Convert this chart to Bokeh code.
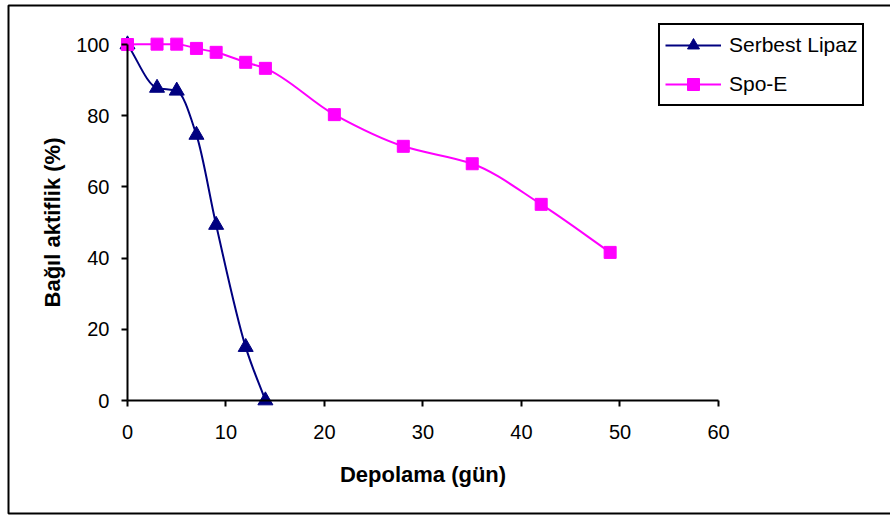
from bokeh.plotting import figure
from bokeh.models import Range1d, Legend, LegendItem, BoxAnnotation, FixedTicker
from bokeh.embed import file_html
from bokeh.resources import INLINE

# ---- data ----
days_serbest = [0, 3, 5, 7, 9, 12, 14]
activity_serbest = [100, 87.8, 87.0, 74.6, 49.3, 15.0, 0]

days_spo = [0, 3, 5, 7, 9, 12, 14, 21, 28, 35, 42, 49]
activity_spo = [100, 100.1, 100.1, 98.9, 97.8, 95.0, 93.3, 80.3, 71.4, 66.5, 55.1, 41.6]

x_ticks = [0, 10, 20, 30, 40, 50, 60]
y_ticks = [0, 20, 40, 60, 80, 100]

x_title = "Depolama (gün)"
y_title = "Bağıl aktiflik (%)"
series_names = ["Serbest Lipaz", "Spo-E"]
colors = ["#000080", "#FF00FF"]

FONT = "Liberation Sans"


def smooth_segments(xs, ys):
    """Monotone cubic (PCHIP) Bezier segments through the data points."""
    n = len(xs)
    h = [xs[k + 1] - xs[k] for k in range(n - 1)]
    d = [(ys[k + 1] - ys[k]) / h[k] for k in range(n - 1)]
    m = [0.0] * n
    m[0] = d[0]
    m[-1] = d[-1]
    for k in range(1, n - 1):
        if d[k - 1] * d[k] <= 0:
            m[k] = 0.0
        else:
            w1 = 2 * h[k] + h[k - 1]
            w2 = h[k] + 2 * h[k - 1]
            m[k] = (w1 + w2) / (w1 / d[k - 1] + w2 / d[k])
    out = dict(x0=[], y0=[], x1=[], y1=[], cx0=[], cy0=[], cx1=[], cy1=[])
    for k in range(n - 1):
        out["x0"].append(xs[k]); out["y0"].append(ys[k])
        out["x1"].append(xs[k + 1]); out["y1"].append(ys[k + 1])
        out["cx0"].append(xs[k] + h[k] / 3.0)
        out["cy0"].append(ys[k] + m[k] * h[k] / 3.0)
        out["cx1"].append(xs[k + 1] - h[k] / 3.0)
        out["cy1"].append(ys[k + 1] - m[k + 1] * h[k] / 3.0)
    return out


# The frame spans the whole canvas; the axes are placed at x=0 / y=0.
p = figure(
    width=890, height=515,
    x_range=Range1d(-12.893, 77.462),
    y_range=Range1d(-32.303, 112.36),
    output_backend="svg", toolbar_location=None,
    min_border_left=0, min_border_right=0,
    min_border_top=0, min_border_bottom=0,
)
p.outline_line_color = None
p.grid.visible = False
p.background_fill_color = "white"
p.border_fill_color = "white"

for ax in (p.xaxis[0], p.yaxis[0]):
    ax.axis_line_width = 2
    ax.axis_line_color = "black"
    ax.major_tick_line_width = 2
    ax.major_tick_line_color = "black"
    ax.major_tick_out = 6
    ax.major_tick_in = 0
    ax.minor_tick_line_color = None
    ax.major_label_text_font = FONT
    ax.major_label_text_font_size = "20px"
    ax.major_label_text_color = "black"
    ax.axis_label_text_font = FONT
    ax.axis_label_text_font_size = "22px"
    ax.axis_label_text_font_style = "bold"
    ax.axis_label_text_color = "black"

p.xaxis[0].ticker = FixedTicker(ticks=x_ticks)
p.yaxis[0].ticker = FixedTicker(ticks=y_ticks)
p.xaxis[0].bounds = (x_ticks[0], x_ticks[-1])
p.yaxis[0].bounds = (y_ticks[0], y_ticks[-1])
p.xaxis[0].fixed_location = 0
p.yaxis[0].fixed_location = 0
p.xaxis[0].axis_label = x_title
p.yaxis[0].axis_label = y_title
p.xaxis[0].major_label_standoff = 18
p.yaxis[0].major_label_standoff = 12
p.xaxis[0].axis_label_standoff = 20
p.yaxis[0].axis_label_standoff = 8

s1 = smooth_segments(days_serbest, activity_serbest)
b1 = p.bezier(x0=s1["x0"], y0=s1["y0"], x1=s1["x1"], y1=s1["y1"],
              cx0=s1["cx0"], cy0=s1["cy0"], cx1=s1["cx1"], cy1=s1["cy1"],
              line_color=colors[0], line_width=2)
m1 = p.scatter(days_serbest, activity_serbest, marker="triangle", size=15,
               fill_color=colors[0], line_color=colors[0])

s2 = smooth_segments(days_spo, activity_spo)
b2 = p.bezier(x0=s2["x0"], y0=s2["y0"], x1=s2["x1"], y1=s2["y1"],
              cx0=s2["cx0"], cy0=s2["cy0"], cx1=s2["cx1"], cy1=s2["cy1"],
              line_color=colors[1], line_width=2)
m2 = p.scatter(days_spo, activity_spo, marker="square", size=12,
               fill_color=colors[1], line_color=colors[1])

legend = Legend(
    items=[LegendItem(label=series_names[0], renderers=[b1, m1]),
           LegendItem(label=series_names[1], renderers=[b2, m2])],
    location=(658, 409),
    border_line_color="black", border_line_width=2, border_line_alpha=1,
    background_fill_color="white", background_fill_alpha=1,
    label_text_font=FONT, label_text_font_size="21px", label_text_color="black",
    glyph_width=56, glyph_height=30, label_height=30,
    label_standoff=8, padding=5, spacing=9, margin=0,
)
p.add_layout(legend)

border = BoxAnnotation(left=8, right=900, top=5, bottom=513,
                       left_units="canvas", right_units="canvas",
                       top_units="canvas", bottom_units="canvas",
                       fill_alpha=0, line_color="black", line_width=2,
                       line_alpha=1, level="overlay")
p.add_layout(border)

open("out.html", "w").write(file_html(p, INLINE))
